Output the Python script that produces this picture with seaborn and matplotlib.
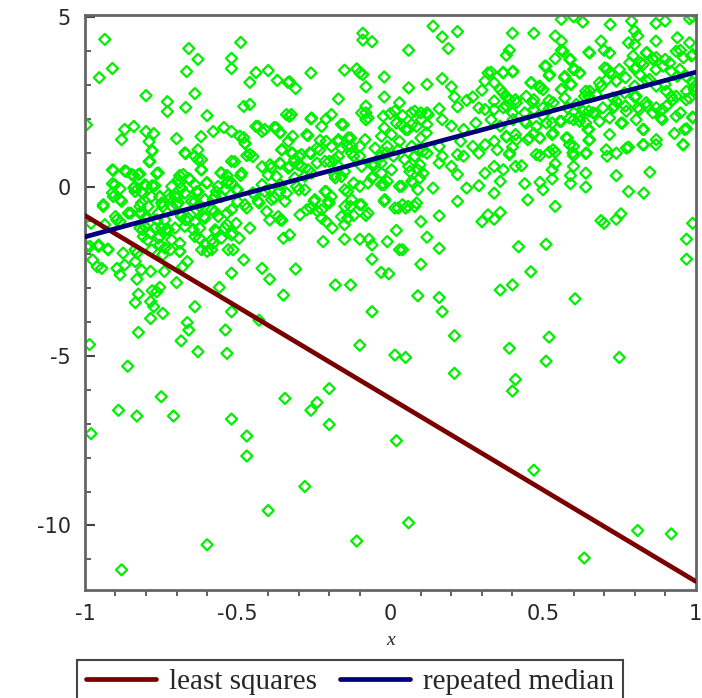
import matplotlib
matplotlib.use("Agg")
import matplotlib.pyplot as plt
import seaborn as sns
import pandas as pd
from matplotlib.ticker import MultipleLocator

# scatter points as (x, y), grouped by region
upper_pts = [
    (-0.935, 4.35), (-0.953, 3.22), (-0.91, 3.49), (-0.995, 1.83), (-0.80, 2.69), (-0.73, 2.51), (-0.73, 2.22),
    (-0.67, 2.34), (-0.66, 4.08), (-0.63, 3.76), (-0.667, 3.40), (-0.64, 2.75), (-0.60, 2.10), (-0.49, 4.26),
    (-0.52, 3.79), (-0.52, 3.49), (-0.46, 3.08), (-0.44, 3.37), (-0.40, 3.43), (-0.37, 3.14), (-0.335, 3.08),
    (-0.48, 2.37), (-0.46, 2.43), (-0.34, 2.13), (-0.87, 1.69), (-0.84, 1.78), (-0.88, 1.39), (-0.80, 1.63),
    (-0.775, 1.57), (-0.79, 1.33), (-0.78, 1.07), (-0.79, 0.74), (-0.70, 1.42), (-0.67, 0.98), (-0.63, 1.09),
    (-0.62, 1.48), (-0.63, 0.80), (-0.58, 1.63), (-0.545, 1.75), (-0.52, 1.63), (-0.48, 1.45), (-0.475, 1.27),
    (-0.47, 0.92), (-0.45, 0.89), (-0.51, 0.74), (-0.44, 1.78), (-0.42, 1.63), (-0.38, 1.75), (-0.36, 1.60),
    (-0.355, 1.09), (-0.36, 0.68), (-0.91, 0.50), (-0.87, 0.47), (-0.84, 0.33), (-0.82, 0.38), (-0.76, 0.41),
    (-0.69, 0.33), (-0.66, 0.24), (-0.62, 0.50), (-0.555, 0.41), (-0.535, 0.33), (-0.49, 0.33), (-0.42, 0.59),
    (-0.39, 0.56), (-0.91, 0.09), (-0.885, -0.06), (-0.91, -0.18), (-0.84, -0.03), (-0.815, -0.15),
    (-0.78, 0.03), (-0.80, 0.03), (-0.755, -0.30), (-0.72, -0.33), (-0.695, -0.30), (-0.69, 0.12),
    (-0.635, -0.15), (-0.60, 0.12), (-0.57, -0.15), (-0.535, 0.12), (-0.50, -0.09), (-0.45, -0.18),
    (-0.42, 0.06), (-0.395, -0.09), (-0.36, 0.06), (-0.64, -0.44), (-0.58, -0.38), (-0.50, -0.44),
    (-0.38, -0.33),
    (0.14, 4.74), (0.17, 4.42), (0.22, 4.58), (0.19, 4.08), (-0.09, 4.53), (-0.09, 4.33), (-0.06, 4.28),
    (0.06, 4.03), (-0.26, 3.36), (-0.15, 3.44), (-0.11, 3.48), (-0.10, 3.36), (-0.09, 3.31), (-0.02, 3.24),
    (-0.33, 3.10), (-0.31, 2.90), (-0.08, 2.95), (0.06, 2.92), (0.12, 3.02), (0.17, 3.19), (0.20, 2.95),
    (0.32, 3.36), (0.31, 3.12), (0.30, 2.85), (-0.17, 2.59), (-0.02, 2.65), (0.03, 2.48), (-0.08, 2.38),
    (-0.08, 2.18), (0.08, 2.23), (0.21, 2.65), (0.25, 2.55), (0.27, 2.65), (-0.33, 2.08), (-0.26, 2.00),
    (-0.21, 2.00), (-0.16, 1.84), (-0.08, 1.98), (0.00, 2.16), (0.04, 2.10), (0.10, 2.18), (0.12, 2.18),
    (0.16, 2.30), (0.22, 2.36), (0.29, 2.33), (0.31, 2.28), (-0.02, 1.74), (0.02, 1.88), (0.05, 1.69),
    (0.07, 1.84), (0.10, 1.44), (0.12, 1.84), (0.17, 1.98), (0.20, 1.79), (0.24, 1.69), (0.28, 1.88),
    (0.33, 1.98), (-0.32, 1.49), (-0.27, 1.51), (-0.23, 1.37), (-0.21, 1.34), (-0.17, 1.39), (-0.13, 1.44),
    (-0.14, 1.19), (-0.10, 1.19), (-0.05, 1.14), (-0.01, 1.19), (0.03, 1.34), (0.07, 1.19), (0.09, 1.09),
    (0.16, 1.19), (0.23, 1.34), (0.27, 1.19), (0.31, 1.24), (-0.32, 0.99), (-0.30, 0.90), (-0.26, 0.98),
    (-0.24, 1.14), (-0.17, 0.90), (-0.12, 0.90), (-0.03, 0.90), (0.01, 0.90), (0.12, 0.99), (0.17, 0.90),
    (0.22, 0.95), (0.24, 0.90), (0.29, 0.99), (-0.33, 0.60), (-0.29, 0.60), (-0.24, 0.70), (-0.20, 0.75),
    (-0.17, 0.60), (-0.15, 0.45), (-0.06, 0.65), (-0.03, 0.70), (0.06, 0.60), (0.09, 0.50), (0.16, 0.70),
    (0.20, 0.60), (-0.28, 0.31), (-0.18, 0.26), (-0.12, 0.11), (-0.06, 0.26), (-0.02, 0.06), (-0.01, 0.16),
    (0.03, 0.01), (0.07, 0.16), (0.09, -0.09), (0.14, -0.04), (0.22, 0.36), (0.25, -0.04), (0.29, 0.03),
    (0.31, 0.40), (-0.34, -0.19), (-0.30, -0.09), (-0.21, -0.14), (-0.14, -0.14), (-0.25, -0.43),
    (0.56, 4.94), (0.60, 5.02), (0.63, 4.86), (0.72, 4.79), (0.79, 4.89), (0.87, 4.82), (0.90, 4.89),
    (0.98, 4.96), (0.99, 5.02), (0.40, 4.53), (0.47, 4.53), (0.54, 4.45), (0.56, 4.30), (0.56, 4.03),
    (0.65, 3.97), (0.69, 4.30), (0.70, 4.03), (0.80, 4.60), (0.81, 4.45), (0.78, 4.25), (0.80, 4.20),
    (0.87, 4.30), (0.94, 4.40), (0.98, 4.25), (0.95, 4.03), (0.99, 3.90), (0.96, 3.81), (0.39, 4.03),
    (0.38, 3.88), (0.84, 3.96), (0.86, 3.78), (0.90, 3.76), (0.82, 3.66), (0.80, 3.48), (0.75, 3.46),
    (0.71, 3.48), (0.59, 3.76), (0.54, 3.78), (0.51, 3.56), (0.33, 3.38), (0.37, 3.38), (0.40, 3.39),
    (0.52, 3.28), (0.57, 3.22), (0.60, 3.46), (0.62, 3.36), (0.71, 3.17), (0.77, 3.22), (0.87, 3.46),
    (0.92, 3.41), (0.94, 3.26), (0.34, 3.07), (0.36, 2.87), (0.34, 2.53), (0.38, 2.65), (0.46, 3.07),
    (0.49, 2.92), (0.56, 2.87), (0.59, 3.02), (0.64, 2.82), (0.69, 2.97), (0.74, 3.12), (0.80, 2.97),
    (0.84, 3.12), (0.90, 3.02), (0.92, 2.67), (0.97, 2.82), (0.997, 2.97), (0.98, 2.62), (0.41, 2.57),
    (0.47, 2.57), (0.52, 2.55), (0.65, 2.67), (0.74, 2.52), (0.80, 2.65), (0.84, 2.38), (0.89, 2.28),
    (0.34, 2.28), (0.37, 2.33), (0.40, 2.18), (0.44, 2.18), (0.47, 2.28), (0.52, 2.30), (0.58, 2.33),
    (0.62, 2.08), (0.65, 2.23), (0.67, 2.16), (0.73, 2.33), (0.77, 2.38), (0.81, 2.33), (0.95, 2.18),
    (0.99, 2.06), (0.36, 1.79), (0.44, 1.93), (0.50, 2.08), (0.53, 1.88), (0.56, 1.93), (0.60, 1.98),
    (0.64, 1.88), (0.76, 1.88), (0.89, 1.98), (0.65, 1.69), (0.83, 1.69), (0.93, 1.57), (0.97, 1.71),
    (0.34, 1.34), (0.38, 1.47), (0.41, 1.54), (0.45, 1.39), (0.49, 1.44), (0.47, 1.57), (0.53, 1.54),
    (0.58, 1.44), (0.60, 1.19), (0.65, 1.37), (0.78, 1.17), (0.83, 1.24), (0.87, 1.24), (0.96, 1.24),
    (0.35, 1.09), (0.39, 0.95), (0.40, 1.17), (0.49, 0.92), (0.52, 1.02), (0.54, 1.02), (0.54, 0.68),
    (0.60, 0.92), (0.64, 0.98), (0.71, 0.90), (0.74, 0.99), (0.34, 0.60), (0.37, 0.50), (0.41, 0.60),
    (0.43, 0.62), (0.53, 0.50), (0.60, 0.60), (0.59, 0.33), (0.64, 0.40), (0.74, 0.33), (0.85, 0.43),
    (0.36, 0.16), (0.44, 0.09), (0.49, 0.13), (0.53, 0.23), (0.59, 0.09), (0.64, -0.01), (0.50, -0.09),
    (0.34, -0.19), (0.78, -0.14), (0.83, -0.19),
]

# extra points from closer looks at the dense band
dense_left_pts = [
    (-0.78, 1.05), (-0.673, 1.00), (-0.64, 0.90), (-0.618, 0.80), (-0.787, 0.75), (-0.52, 0.75),
    (-0.907, 0.48), (-0.864, 0.45), (-0.847, 0.36), (-0.825, 0.36), (-0.765, 0.39), (-0.678, 0.36),
    (-0.694, 0.21), (-0.656, 0.21), (-0.618, 0.50), (-0.553, 0.40), (-0.531, 0.16), (-0.902, 0.06),
    (-0.836, 0.01), (-0.804, 0.06), (-0.771, 0.03), (-0.716, 0.01), (-0.684, -0.04), (-0.64, 0.06),
    (-0.602, 0.11), (-0.564, 0.01), (-0.542, -0.09), (-0.52, 0.11), (-0.907, -0.29), (-0.885, -0.38),
    (-0.836, -0.14), (-0.809, -0.19), (-0.782, -0.29), (-0.755, -0.29), (-0.727, -0.24), (-0.705, -0.29),
    (-0.673, -0.19), (-0.629, -0.14), (-0.607, -0.38), (-0.574, -0.29), (-0.553, -0.29), (-0.94, -0.53),
    (-0.815, -0.48), (-0.793, -0.58), (-0.749, -0.48), (-0.716, -0.58), (-0.694, -0.48), (-0.651, -0.43),
    (-0.624, -0.58), (-0.585, -0.68), (-0.52, -0.68), (-0.858, -0.78), (-0.82, -0.78), (-0.798, -0.88),
    (-0.896, -0.98), (-0.76, -0.78), (-0.738, -0.98), (-0.684, -0.88), (-0.662, -0.93), (-0.64, -1.03),
    (-0.607, -0.93), (-0.564, -0.88), (-0.82, -1.22), (-0.804, -1.17), (-0.771, -1.22), (-0.749, -1.22),
    (-0.727, -1.27), (-0.705, -1.22), (-0.673, -1.17), (-0.624, -1.22), (-0.574, -1.27), (-0.542, -1.22),
    (-0.984, -1.76), (-0.956, -1.76), (-0.924, -1.86), (-0.809, -1.47), (-0.76, -1.52), (-0.716, -1.57),
    (-0.689, -1.67), (-0.64, -1.47), (-0.585, -1.57), (-0.553, -1.52), (-0.52, -1.42), (-0.836, -1.86),
    (-0.782, -1.86), (-0.738, -1.81), (-0.689, -1.91), (-0.618, -1.86), (-0.585, -1.86), (-0.531, -1.86),
]

dense_mid_pts = [
    (-0.324, 2.13), (-0.258, 2.03), (-0.193, 2.13), (-0.094, 2.18), (-0.073, 2.03), (-0.023, 2.08),
    (0.015, 2.23), (0.069, 2.18), (0.102, 1.98), (0.124, 2.13), (-0.433, 1.78), (-0.411, 1.69),
    (-0.373, 1.74), (-0.362, 1.59), (-0.334, 1.34), (-0.274, 1.54), (-0.225, 1.78), (-0.154, 1.83),
    (-0.493, 1.49), (-0.476, 1.29), (-0.171, 1.34), (-0.138, 1.44), (-0.127, 1.19), (-0.160, 1.14),
    (-0.083, 1.39), (-0.029, 1.49), (0.004, 1.54), (0.037, 1.83), (0.058, 1.69), (0.086, 1.78),
    (0.118, 1.59), (-0.356, 1.09), (-0.324, 1.00), (-0.313, 0.80), (-0.291, 0.95), (-0.264, 1.00),
    (-0.231, 1.09), (-0.193, 1.19), (-0.460, 0.95), (-0.394, 0.65), (-0.362, 0.70), (-0.334, 0.55),
    (-0.302, 0.65), (-0.269, 0.50), (-0.214, 0.75), (-0.182, 0.80), (-0.127, 1.00), (-0.100, 0.90),
    (-0.051, 0.65), (-0.013, 1.00), (0.026, 1.09), (0.047, 0.80), (0.080, 0.90), (0.107, 1.05),
    (-0.487, 0.40), (-0.400, 0.35), (-0.373, 0.30), (-0.313, 0.26), (-0.258, 0.40), (-0.182, 0.35),
    (-0.160, 0.30), (-0.094, 0.60), (-0.056, 0.30), (-0.029, 0.40), (0.004, 0.50), (0.064, 0.45),
    (0.097, 0.65), (0.107, 0.40), (-0.504, -0.09), (-0.444, -0.24), (-0.411, -0.14), (-0.362, -0.14),
    (-0.307, 0.01), (-0.280, -0.09), (-0.214, -0.14), (-0.193, -0.29), (-0.149, -0.09), (-0.100, 0.01),
    (-0.073, 0.11), (-0.029, 0.06), (0.037, 0.01), (0.075, 0.11), (0.097, 0.26), (-0.476, -0.53),
    (-0.433, -0.43), (-0.389, -0.38), (-0.345, -0.43), (-0.247, -0.38), (-0.225, -0.68), (-0.203, -0.43),
    (-0.149, -0.58), (-0.127, -0.38), (-0.094, -0.53), (-0.018, -0.38), (0.026, -0.63), (0.058, -0.58),
    (0.086, -0.48), (-0.367, -0.88), (-0.296, -0.83), (-0.274, -0.68), (-0.225, -0.93), (-0.160, -0.88),
    (-0.073, -0.78),
]

dense_right_pts = [
    (0.566, 4.00), (0.653, 3.95), (0.718, 3.95), (0.795, 3.86), (0.838, 3.95), (0.871, 3.81),
    (0.936, 4.00), (0.986, 3.86), (0.369, 3.36), (0.402, 3.41), (0.506, 3.56), (0.522, 3.31),
    (0.587, 3.76), (0.604, 3.46), (0.620, 3.36), (0.571, 3.26), (0.593, 3.02), (0.560, 2.87),
    (0.462, 3.07), (0.489, 2.97), (0.500, 2.87), (0.702, 3.51), (0.718, 3.36), (0.685, 3.07),
    (0.740, 3.12), (0.784, 3.66), (0.806, 3.51), (0.828, 3.61), (0.860, 3.76), (0.893, 3.56),
    (0.915, 3.66), (0.948, 3.46), (0.969, 3.26), (0.817, 3.31), (0.849, 3.17), (0.871, 2.97),
    (0.904, 2.82), (0.936, 2.67), (0.969, 2.57), (0.991, 3.07), (0.995, 2.87), (0.369, 2.77),
    (0.391, 2.57), (0.380, 2.38), (0.413, 2.48), (0.445, 2.67), (0.467, 2.48), (0.500, 2.33),
    (0.533, 2.48), (0.571, 2.62), (0.609, 2.43), (0.636, 2.67), (0.653, 2.82), (0.674, 2.72),
    (0.729, 2.62), (0.767, 2.77), (0.805, 2.67), (0.838, 2.48), (0.871, 2.33), (0.904, 2.38),
    (0.925, 2.57), (0.631, 2.23), (0.664, 2.18), (0.696, 2.33), (0.734, 2.38), (0.773, 2.23),
    (0.816, 2.28), (0.860, 2.18), (0.887, 2.03), (0.936, 2.08), (0.991, 2.03), (0.402, 1.98),
    (0.445, 1.88), (0.478, 1.78), (0.511, 1.88), (0.555, 1.93), (0.587, 2.03), (0.620, 1.93),
    (0.647, 1.69), (0.685, 1.93), (0.718, 2.03), (0.756, 1.88), (0.805, 1.98), (0.827, 1.69),
    (0.964, 1.69), (0.380, 1.49), (0.413, 1.39), (0.456, 1.44), (0.489, 1.44), (0.533, 1.59),
    (0.576, 1.44), (0.587, 1.24), (0.653, 1.39), (0.718, 1.54), (0.773, 1.14), (0.827, 1.24),
    (0.871, 1.39), (0.958, 1.24), (0.391, 0.99), (0.478, 0.95), (0.533, 1.09), (0.598, 1.00),
    (0.642, 1.00), (0.707, 1.09),
]

lower_pts = [
    (-0.94, -0.58), (-0.88, -0.43), (-0.98, -1.08), (-0.935, -1.12), (-0.90, -0.88), (-0.885, -1.03),
    (-0.85, -0.78), (-0.82, -0.58), (-0.815, -0.78), (-0.80, -0.93), (-0.765, -0.98), (-0.745, -0.58),
    (-0.70, -0.53), (-0.69, -0.78), (-0.67, -0.98), (-0.635, -0.68), (-0.61, -0.88), (-0.575, -0.73),
    (-0.535, -0.78), (-0.505, -1.08), (-0.47, -0.63), (-0.43, -0.48), (-0.405, -0.73), (-0.36, -0.98),
    (-0.395, -0.98), (-0.995, -1.77), (-0.955, -1.72), (-0.925, -1.84), (-0.975, -2.16), (-0.96, -2.36),
    (-0.945, -2.41), (-0.895, -2.41), (-0.885, -2.60), (-0.875, -1.96), (-0.87, -2.31), (-0.835, -2.21),
    (-0.83, -1.96), (-0.815, -2.46), (-0.81, -1.27), (-0.785, -1.37), (-0.795, -1.57), (-0.755, -1.47),
    (-0.735, -1.27), (-0.755, -1.72), (-0.72, -1.86), (-0.69, -1.91), (-0.745, -2.01), (-0.785, -2.50),
    (-0.74, -2.50), (-0.665, -2.21), (-0.68, -2.36), (-0.645, -1.27), (-0.625, -1.52), (-0.605, -1.72),
    (-0.60, -1.91), (-0.58, -1.67), (-0.57, -1.32), (-0.535, -1.12), (-0.515, -1.37), (-0.495, -1.52),
    (-0.48, -2.16), (-0.46, -1.22), (-0.515, -1.86), (-0.42, -2.41), (-0.395, -2.73), (-0.52, -2.55),
    (-0.355, -0.99), (-0.35, -1.52), (-0.35, -3.20), (-0.83, -2.73), (-0.765, -3.10), (-0.755, -2.97),
    (-0.78, -3.07), (-0.70, -2.83), (-0.825, -3.17), (-0.835, -3.42), (-0.785, -3.39), (-0.775, -3.54),
    (-0.745, -3.74), (-0.785, -3.89), (-0.64, -3.54), (-0.56, -2.97), (-0.52, -3.69), (-0.665, -4.01),
    (-0.66, -4.23), (-0.685, -4.55), (-0.54, -4.23), (-0.825, -4.30), (-0.985, -4.66), (-0.63, -4.87),
    (-0.535, -4.92), (-0.86, -5.30), (-0.75, -6.20), (-0.345, -6.25), (-0.43, -3.94),
    (-0.26, -0.63), (-0.24, -0.71), (-0.20, -0.48), (-0.13, -0.58), (-0.10, -0.53), (-0.02, -0.43),
    (0.015, -0.63), (0.04, -0.53), (0.05, -0.63), (0.08, -0.58), (0.22, -0.43), (-0.21, -1.03),
    (-0.19, -1.22), (-0.15, -1.12), (-0.14, -0.93), (-0.12, -0.85), (-0.08, -0.85), (0.10, -1.03),
    (0.16, -0.86), (0.30, -1.03), (0.32, -0.83), (-0.33, -1.42), (-0.22, -1.62), (-0.15, -1.55),
    (-0.10, -1.55), (-0.07, -1.55), (-0.06, -1.72), (-0.01, -1.62), (0.02, -1.29), (0.03, -1.86),
    (0.04, -1.86), (0.12, -1.49), (0.16, -1.82), (-0.06, -2.14), (-0.31, -2.43), (-0.03, -2.53),
    (-0.005, -2.57), (0.10, -2.29), (-0.18, -2.90), (-0.13, -2.90), (0.09, -3.22), (0.16, -3.27),
    (-0.06, -3.69), (0.17, -3.69), (0.21, -4.40), (-0.10, -4.68), (0.015, -4.97), (0.05, -5.04),
    (0.21, -5.51), (-0.20, -5.96),
    (0.45, -0.39), (0.54, -0.58), (0.36, -0.76), (0.34, -0.96), (0.69, -1.00), (0.70, -1.08),
    (0.74, -0.96), (0.755, -0.80), (0.99, -1.08), (0.42, -1.77), (0.51, -1.70), (0.97, -1.55),
    (0.97, -2.14), (0.46, -2.51), (0.36, -3.05), (0.40, -2.90), (0.605, -3.31), (0.52, -4.44),
    (0.39, -4.77), (0.51, -5.15), (0.75, -5.04), (0.41, -5.69), (0.40, -6.03),
]

far_pts = [
    (-0.98, -7.29), (-0.89, -6.60), (-0.83, -6.77), (-0.71, -6.77), (-0.52, -6.86), (-0.47, -7.36),
    (-0.47, -7.95), (-0.26, -6.60), (-0.24, -6.37), (-0.20, -7.02), (-0.28, -8.85), (-0.40, -9.56),
    (-0.60, -10.57), (-0.11, -10.46), (-0.88, -11.31), (0.02, -7.50), (0.47, -8.37), (0.06, -9.92),
    (0.635, -10.96), (0.81, -10.15), (0.92, -10.25),
]

# fitted lines (end points)
line_x = [-1, 1]
least_squares_y = [-0.85, -11.65]
repeated_median_y = [-1.48, 3.38]

x_ticks = [-1, -0.5, 0, 0.5, 1]
x_tick_labels = ["-1", "-0.5", "0", "0.5", "1"]
y_ticks = [-10, -5, 0, 5]
y_tick_labels = ["-10", "-5", "0", "5"]

sns.set_style("white")
plt.rcParams["font.family"] = ["DejaVu Sans"]
plt.rcParams["axes.unicode_minus"] = False

all_pts = upper_pts + dense_left_pts + dense_mid_pts + dense_right_pts + lower_pts + far_pts
pts = pd.DataFrame(all_pts, columns=["x", "y"])

fig = plt.figure(figsize=(7.02, 6.98), dpi=100)
ax = fig.add_axes([0.121, 0.155, 0.870, 0.824])

sns.scatterplot(data=pts, x="x", y="y", marker="D", s=32, fc="none", ec="#00f000",
                linewidth=1.6, ax=ax, legend=False, zorder=2)
sns.lineplot(x=line_x, y=least_squares_y, color="#7a0000", lw=3.4, ax=ax,
             label="least squares", zorder=3)
sns.lineplot(x=line_x, y=repeated_median_y, color="#00007a", lw=3.4, ax=ax,
             label="repeated median", zorder=3)

ax.set_xlim(-1, 1)
ax.set_ylim(-11.9, 5.08)
ax.set_xticks(x_ticks)
ax.set_xticklabels(x_tick_labels)
ax.set_yticks(y_ticks)
ax.set_yticklabels(y_tick_labels)
ax.xaxis.set_minor_locator(MultipleLocator(0.1))
ax.yaxis.set_minor_locator(MultipleLocator(1))
ax.tick_params(axis="x", which="major", direction="out", length=7, width=1.5, labelsize=15, pad=3, color="#444444")
ax.tick_params(axis="x", which="minor", direction="out", length=4, width=1.2, color="#444444", bottom=True)
ax.tick_params(axis="y", which="major", direction="in", length=7, width=1.5, labelsize=15, pad=10, color="#444444", left=True)
ax.tick_params(axis="y", which="minor", direction="in", length=4, width=1.2, color="#444444", left=True)
for sp in ax.spines.values():
    sp.set_color("#666666")
    sp.set_linewidth(2)

ax.set_ylabel("")
ax.set_xlabel("x", fontsize=14, fontstyle="italic", family="Liberation Serif", labelpad=6)

handles, labels = ax.get_legend_handles_labels()
ax.legend_.remove()
leg = fig.legend(handles, labels, loc="upper center", bbox_to_anchor=(0.4986, 0.0544), ncol=2,
                 frameon=True, fancybox=False, edgecolor="#444444", framealpha=1,
                 prop={"family": "Liberation Serif", "size": 21}, handlelength=2.4,
                 handletextpad=0.45, columnspacing=0.8, borderpad=0.3, borderaxespad=0)
leg.get_frame().set_linewidth(1.5)

fig.savefig("out.png", dpi=100)
